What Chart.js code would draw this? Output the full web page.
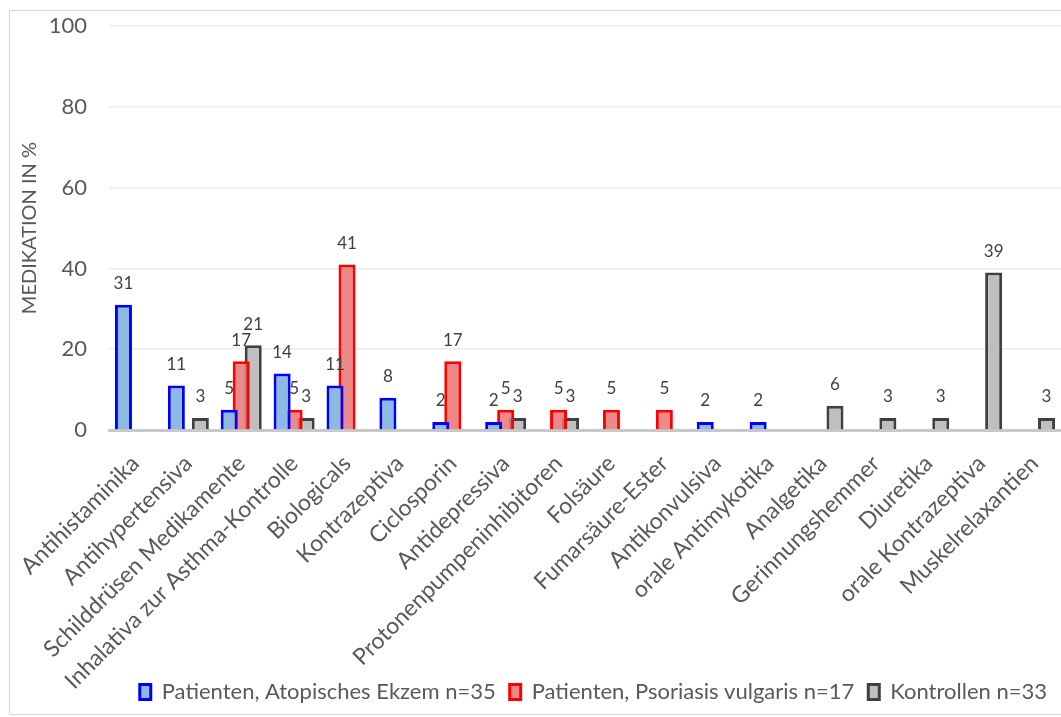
<!DOCTYPE html>
<html>
<head>
<meta charset="utf-8">
<script src="https://cdn.jsdelivr.net/npm/chart.js@4"></script>
<style>
  body { margin: 0; background: #fff; overflow: hidden; }
  #frame { position: absolute; left: 9px; top: 10px; width: 1060px; height: 703px; border: 1px solid #D9D9D9; }
  #wrap { position: absolute; left: 0; top: -9px; width: 1061px; height: 726px; }
</style>
</head>
<body>
<div id="frame"></div>
<div id="wrap"><canvas id="medChart"></canvas></div>
<script>
const categories = [
    'Antihistaminika', 'Antihypertensiva', 'Schilddrüsen Medikamente', 'Inhalativa zur Asthma-Kontrolle',
    'Biologicals', 'Kontrazeptiva', 'Ciclosporin', 'Antidepressiva', 'Protonenpumpeninhibitoren',
    'Folsäure', 'Fumarsäure-Ester', 'Antikonvulsiva', 'orale Antimykotika', 'Analgetika',
    'Gerinnungshemmer', 'Diuretika', 'orale Kontrazeptiva', 'Muskelrelaxantien'
];
const ekzemValues = [31, 11, 5, 14, 11, 8, 2, 2, null, null, null, 2, 2, null, null, null, null, null];
const psoriasisValues = [null, null, 17, 5, 41, null, 17, 5, 5, 5, 5, null, null, null, null, null, null, null];
const kontrollValues = [null, 3, 21, 3, null, null, null, 3, 3, null, null, null, null, 6, 3, 3, 39, 3];
const yTicks = [0, 20, 40, 60, 80, 100];

const FONT = 'Lato, "Open Sans", sans-serif';

// value labels above each bar
const valueLabels = {
    id: 'valueLabels',
    afterDatasetsDraw(chart) {
        const ctx = chart.ctx;
        ctx.save();
        ctx.font = '17px ' + FONT;
        ctx.fillStyle = '#404040';
        ctx.textAlign = 'center';
        ctx.textBaseline = 'middle';
        chart.data.datasets.forEach((ds, i) => {
            const meta = chart.getDatasetMeta(i);
            meta.data.forEach((bar, j) => {
                const v = ds.data[j];
                if (v === null || v === undefined) return;
                ctx.fillText(String(v), bar.x, bar.y - 21);
            });
        });
        ctx.restore();
    }
};

const ctx = document.getElementById('medChart').getContext('2d');
const chart = new Chart(ctx, {
    type: 'bar',
    data: {
        labels: categories,
        datasets: [
            { label: 'Patienten, Atopisches Ekzem n=35', data: ekzemValues,
              backgroundColor: '#8DB9E5', borderColor: '#0000FF', borderWidth: 3 },
            { label: 'Patienten, Psoriasis vulgaris n=17', data: psoriasisValues,
              backgroundColor: 'rgba(234,116,116,0.85)', borderColor: '#FF0000', borderWidth: 3 },
            { label: 'Kontrollen n=33', data: kontrollValues,
              backgroundColor: '#BFBFBF', borderColor: '#404040', borderWidth: 3 }
        ]
    },
    options: {
        responsive: true,
        maintainAspectRatio: false,
        animation: false,
        categoryPercentage: 0.68,
        barPercentage: 1.42,
        layout: { padding: { top: 0, left: 4, right: 0, bottom: 4 } },
        plugins: {
            legend: {
                position: 'bottom',
                align: 'end',
                labels: {
                    boxWidth: 11,
                    boxHeight: 15,
                    padding: 14,
                    color: '#595959',
                    font: { family: FONT, size: 22 }
                }
            },
            tooltip: { enabled: false }
        },
        scales: {
            x: {
                grid: { display: false },
                border: { display: true, color: '#C8C8C8', width: 3 },
                ticks: {
                    color: '#595959',
                    font: { family: FONT, size: 23 },
                    minRotation: 45,
                    maxRotation: 45,
                    autoSkip: false,
                    padding: 12
                },
                afterFit: axis => {
                    axis.height = 237;
                    // let long rotated labels run past the axis box like in the original
                    axis.paddingLeft = 0;
                    axis.paddingRight = 0;
                    axis._computeLabelArea = () => undefined;
                }
            },
            y: {
                min: 0,
                max: 100,
                afterBuildTicks: axis => { axis.ticks = yTicks.map(v => ({ value: v })); },
                afterFit: axis => { axis.width = 105; },
                grid: {
                    color: '#ECECEC',
                    lineWidth: 1.5,
                    drawTicks: false
                },
                border: { display: false },
                ticks: {
                    color: '#595959',
                    font: { family: FONT, size: 22 },
                    padding: 22
                },
                title: {
                    display: true,
                    text: 'MEDIKATION IN %',
                    color: '#595959',
                    font: { family: FONT, size: 20 },
                    padding: { top: 14, bottom: 4 }
                }
            }
        }
    },
    plugins: [valueLabels]
});
</script>
</body>
</html>
